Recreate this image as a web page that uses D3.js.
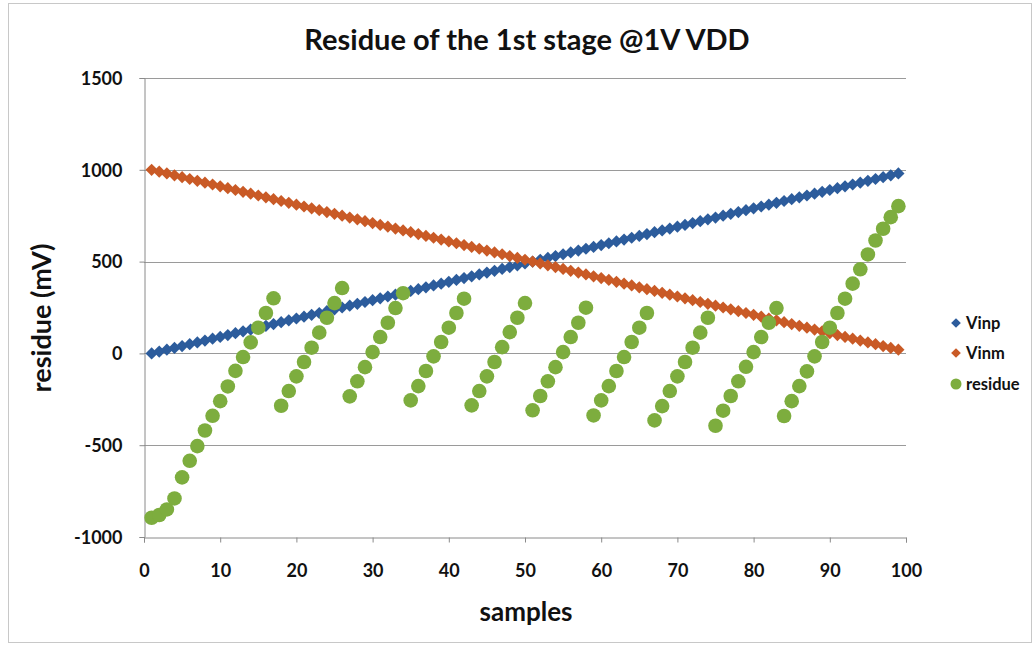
<!DOCTYPE html>
<html>
<head>
<meta charset="utf-8">
<script src="https://cdn.jsdelivr.net/npm/d3@7"></script>
<style>
  html, body { margin: 0; padding: 0; background: #ffffff; }
  svg { display: block; }
  text { font-family: Lato, "Noto Sans", sans-serif; font-weight: bold; fill: #111; }
</style>
</head>
<body>
<svg id="chart" width="1035" height="646"></svg>
<script>
const samples = [1,2,3,4,5,6,7,8,9,10,11,12,13,14,15,16,17,18,19,20,21,22,23,24,25,26,27,28,29,30,31,32,33,34,35,36,37,38,39,40,41,42,43,44,45,46,47,48,49,50,51,52,53,54,55,56,57,58,59,60,61,62,63,64,65,66,67,68,69,70,71,72,73,74,75,76,77,78,79,80,81,82,83,84,85,86,87,88,89,90,91,92,93,94,95,96,97,98,99];
const vinp = [0,10,20,30,40,50,60,70,80,90,100,110,120,130,140,150,160,170,180,190,200,210,220,230,240,250,260,270,280,290,300,310,320,330,340,350,360,370,380,390,400,410,420,430,440,450,460,470,480,490,500,510,520,530,540,550,560,570,580,590,600,610,620,630,640,650,660,670,680,690,700,710,720,730,740,750,760,770,780,790,800,810,820,830,840,850,860,870,880,890,900,910,920,930,940,950,960,970,980];
const vinm = [1000,990,980,970,960,950,940,930,920,910,900,890,880,870,860,850,840,830,820,810,800,790,780,770,760,750,740,730,720,710,700,690,680,670,660,650,640,630,620,610,600,590,580,570,560,550,540,530,520,510,500,490,480,470,460,450,440,430,420,410,400,390,380,370,360,350,340,330,320,310,300,290,280,270,260,250,240,230,220,210,200,190,180,170,160,150,140,130,120,110,100,90,80,70,60,50,40,30,20];
const residue = [-895,-880,-850,-790,-675,-585,-505,-420,-340,-260,-180,-95,-20,60,140,220,300,
  -285,-205,-125,-47,31,113,194,274,356,
  -234,-152,-75,7,89,167,247,328,
  -256,-178,-96,-16,62,140,220,298,
  -283,-205,-125,-47,34,116,194,274,
  -310,-232,-152,-75,7,89,167,249,
  -338,-256,-178,-96,-20,62,140,220,
  -365,-287,-205,-125,-47,31,113,194,
  -394,-312,-232,-152,-73,7,89,167,247,
  -341,-260,-178,-98,-16,62,140,220,298,380,458,539,615,679,742,802];
const xTicks = [0,10,20,30,40,50,60,70,80,90,100];
const yTicks = [-1000,-500,0,500,1000,1500];
const seriesNames = ["Vinp","Vinm","residue"];
const colors = ["#2c5c9c","#c95a26","#7dad3e"];

const svg = d3.select("#chart");
const pLeft = 144, pRight = 906, pTop = 78, pBottom = 537;

// outer border
svg.append("rect").attr("x", 8.5).attr("y", 3.5).attr("width", 1023).attr("height", 639)
  .attr("fill", "none").attr("stroke", "#c8c8c8").attr("stroke-width", 1);

const x = d3.scaleLinear().domain([0, 100]).range([pLeft, pRight]);
const y = d3.scaleLinear().domain([-1000, 1500]).range([pBottom, pTop]);

// gridlines
svg.append("g").selectAll("line").data(yTicks.filter(d => d !== -1000)).join("line")
  .attr("x1", pLeft).attr("x2", pRight)
  .attr("y1", d => Math.round(y(d)) + 0.5).attr("y2", d => Math.round(y(d)) + 0.5)
  .attr("stroke", "#9a9a9a").attr("stroke-width", 1);

// axes
const fmt = d => String(d);
const xAxis = d3.axisBottom(x).tickValues(xTicks).tickSize(5).tickFormat(fmt);
const yAxis = d3.axisLeft(y).tickValues(yTicks).tickSize(5).tickFormat(fmt);

const gx = svg.append("g").attr("transform", `translate(0,${Math.round(y(-1000)) + 0.5})`).call(xAxis);
gx.select(".domain").attr("stroke", "#8a8a8a");
gx.selectAll(".tick line").attr("stroke", "#8a8a8a");
gx.selectAll(".tick text").attr("dy", 0).attr("y", 39).style("font-size", "18px").attr("fill", "#111");

const gy = svg.append("g").attr("transform", `translate(${pLeft + 0.5},0)`).call(yAxis);
gy.select(".domain").attr("stroke", "#8a8a8a");
gy.selectAll(".tick line").attr("stroke", "#8a8a8a");
gy.selectAll(".tick text").attr("x", -22).attr("dy", "0.35em").style("font-size", "18px").attr("fill", "#111");

// series
const diamond = d3.symbol().type(d3.symbolDiamond2).size(95);
svg.append("g").selectAll("path").data(samples).join("path")
  .attr("d", diamond)
  .attr("transform", (d, i) => `translate(${x(d)},${y(vinp[i])})`)
  .attr("fill", colors[0]);
svg.append("g").selectAll("path").data(samples).join("path")
  .attr("d", diamond)
  .attr("transform", (d, i) => `translate(${x(d)},${y(vinm[i])})`)
  .attr("fill", colors[1]);
svg.append("g").selectAll("circle").data(samples).join("circle")
  .attr("cx", d => x(d)).attr("cy", (d, i) => y(residue[i]))
  .attr("r", 7.3).attr("fill", colors[2]);

// title and labels
svg.append("text").attr("x", 527).attr("y", 50).attr("text-anchor", "middle")
  .style("font-size", "29px").text("Residue of the 1st stage @1V VDD");
svg.append("text").attr("x", 526).attr("y", 621).attr("text-anchor", "middle")
  .style("font-size", "26px").text("samples");
svg.append("text").attr("transform", "translate(51,318) rotate(-90)").attr("text-anchor", "middle")
  .style("font-size", "27px").text("residue (mV)");

// legend
const lg = svg.append("g");
const ly = [323, 353, 384];
seriesNames.forEach((n, i) => {
  if (i < 2) {
    lg.append("path").attr("d", d3.symbol().type(d3.symbolDiamond2).size(60))
      .attr("transform", `translate(956,${ly[i]})`).attr("fill", colors[i]);
  } else {
    lg.append("circle").attr("cx", 956).attr("cy", ly[i]).attr("r", 5.5).attr("fill", colors[i]);
  }
  lg.append("text").attr("x", 966).attr("y", ly[i]).attr("dy", "0.35em")
    .style("font-size", "16.5px").text(n);
});
</script>
</body>
</html>
